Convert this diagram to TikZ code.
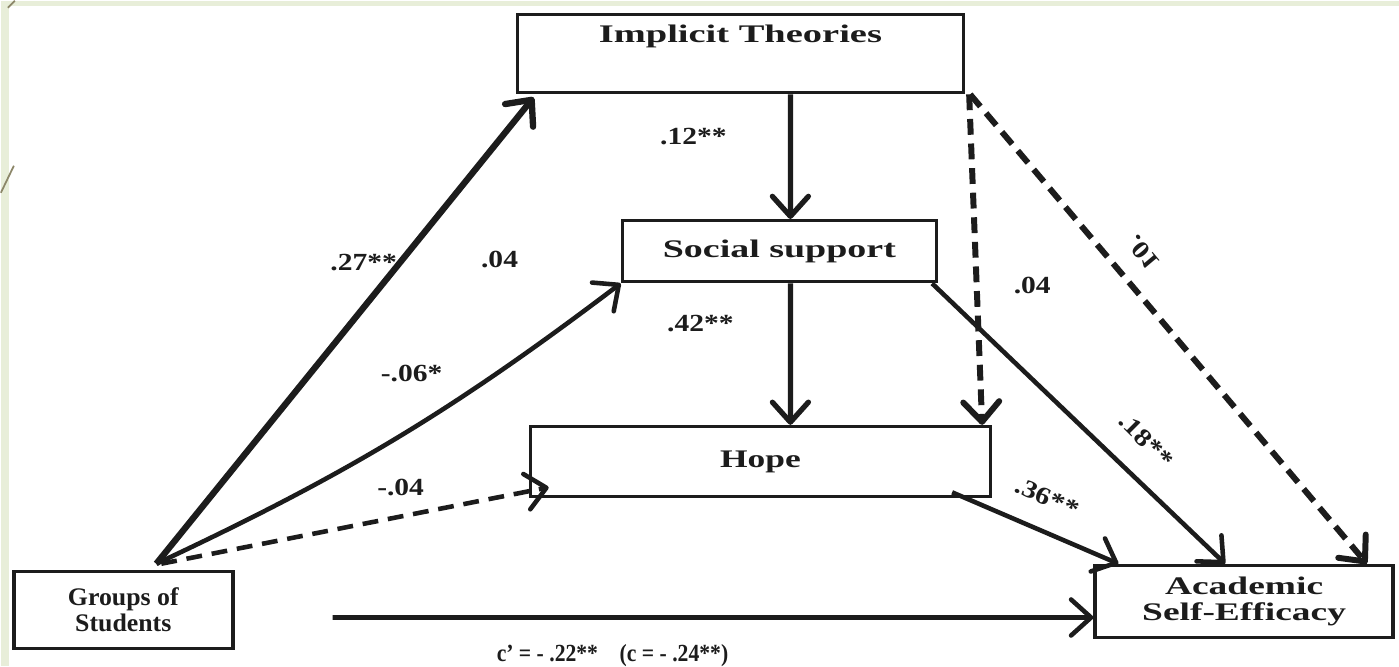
\documentclass[tikz,border=0pt]{standalone}
\usepackage{graphicx}
\usepackage{fontspec}
\setmainfont{Liberation Serif}
\usetikzlibrary{arrows.meta}
\definecolor{slidegreen}{RGB}{232,238,217}
\definecolor{slideline}{RGB}{140,135,105}
\definecolor{ink}{RGB}{28,28,28}
\newcommand{\wide}[2]{\scalebox{#1}[1]{#2}}
\tikzset{
	box/.style={draw=ink, line width=1pt, inner sep=0pt, align=center, text=ink,
		font=\fontsize{7.2}{7.4}\selectfont\bfseries},
	link/.style={draw=ink, line width=1.3pt, -{Straight Barb[length=2mm,width=3.6mm,round]}},
	dashlink/.style={link, line width=1.7pt, dash pattern=on 4.5pt off 2.5pt},
	coef/.style={inner sep=0pt, text=ink, font=\fontsize{7}{8}\selectfont\bfseries},
}
\begin{document}
\begin{tikzpicture}[x=0.01cm,y=-0.01cm]
	\fill[slidegreen] (0,0) rectangle (1399,666);
	\fill[white] (8,5) rectangle (1399,666);
	\draw[slideline, line width=0.5pt] (14,0) -- (7,7);
	\draw[slideline, line width=0.5pt] (13,165) -- (0,192);

	\node[box, anchor=north, minimum width=4.46cm, text height=0.28cm, text depth=0.5cm] (imp) at (740,12) {\wide{1.52}{Implicit Theories}};
	\node[box, minimum width=3.14cm, minimum height=0.61cm] (sup) at (779,250.5) {\wide{1.5}{Social support}};
	\node[box, minimum width=4.6cm, minimum height=0.7cm] (hope) at (760,461) {\wide{1.4}{Hope}};
	\node[box, minimum width=2.19cm, minimum height=0.77cm] (grp) at (122.5,609.5) {\wide{1.02}{Groups of}\\\wide{1.02}{Students}};
	\node[box, minimum width=2.98cm, minimum height=0.72cm] (acad) at (1244,601) {\wide{1.48}{Academic}\\\wide{1.48}{Self-Efficacy}};

	\draw[link, line width=1.8pt] ([xshift=0.33cm,yshift=0.06cm]grp.north) -- ([xshift=0.18cm,yshift=-0.03cm]imp.south west);
	\draw[link] ([xshift=0.33cm,yshift=0.06cm]grp.north) to[bend right=6] (sup.south west);
	\draw[link, dash pattern=on 4.5pt off 2.8pt] ([xshift=0.38cm,yshift=0.06cm]grp.north) -- ([xshift=0.2cm,yshift=0.11cm]hope.south west);
	\draw[link] ([xshift=0.98cm,yshift=-0.075cm]grp.east) -- ([yshift=-0.16cm]acad.west);
	\draw[link, line width=1.5pt] ([xshift=0.5cm]imp.south) -- ([xshift=0.11cm]sup.north);
	\draw[link, line width=1.5pt] ([xshift=0.11cm]sup.south) -- ([xshift=0.3cm]hope.north);
	\draw[dashlink] ([xshift=0.04cm]imp.south east) -- ([xshift=-0.1cm]hope.north east);
	\draw[dashlink] ([xshift=0.05cm]imp.south east) -- ([xshift=-0.28cm]acad.north east);
	\draw[link] ([xshift=-0.06cm]sup.south east) -- ([xshift=-0.19cm]acad.north);
	\draw[link] ([xshift=-0.4cm,yshift=0.06cm]hope.south east) -- ([xshift=0.25cm]acad.north west);

	\node[coef] (b27) at (363,262) {\wide{1.2}{.27**}};
	\node[coef] (b04l) at (499,259) {\wide{1.2}{.04}};
	\node[coef] (b06) at (411,373) {\wide{1.2}{-.06*}};
	\node[coef] (b04h) at (400,487) {\wide{1.2}{-.04}};
	\node[coef] (b12) at (693,136) {\wide{1.2}{.12**}};
	\node[coef] (b42) at (700,323) {\wide{1.2}{.42**}};
	\node[coef] (b04r) at (1032,285) {\wide{1.2}{.04}};
	\node[coef, rotate=-50, yscale=-1] (b01) at (1143,252) {\wide{1.2}{.01}};
	\node[coef, rotate=-45] (b18) at (1146,440) {\wide{1.2}{.18**}};
	\node[coef, rotate=-23] (b36) at (1047,497) {\wide{1.2}{.36**}};
	\node[coef] (ctot) at (612,655) {\wide{0.88}{c’ = - .22**\quad (c = - .24**)}};
\end{tikzpicture}
\end{document}
